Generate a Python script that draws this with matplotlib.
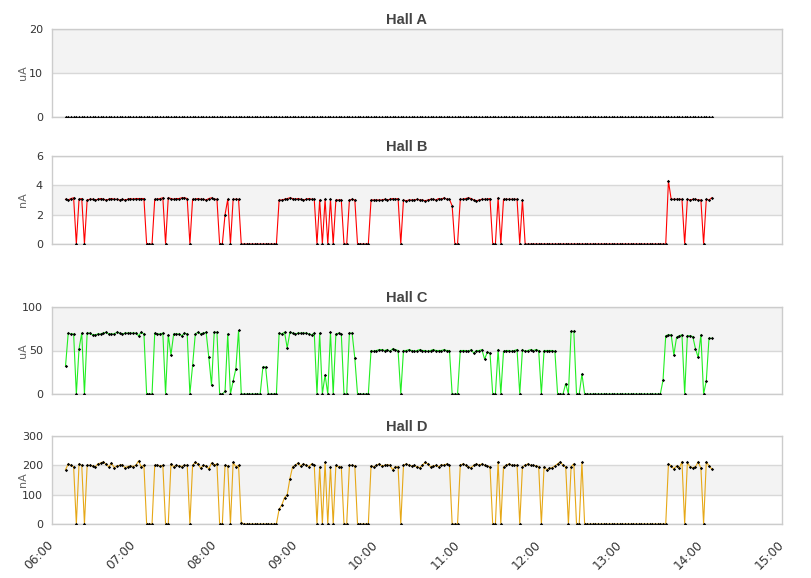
import matplotlib
matplotlib.use("Agg")
import matplotlib.pyplot as plt
import matplotlib.dates as mdates
import pandas as pd

# one reading every 2 minutes, 06:10 .. 14:08
times = pd.date_range("2024-05-14 06:10", periods=240, freq="2min")
day_start = pd.Timestamp("2024-05-14 06:00")
day_end = pd.Timestamp("2024-05-14 15:00")

titles = ["Hall A", "Hall B", "Hall C", "Hall D"]
units = ["uA", "nA", "uA", "nA"]
y_max = [20, 6, 100, 300]
y_step = [10, 2, 50, 100]

hall_a = [0] * 240

hall_b = (
    [3.05, 3.0, 3.1, 3.15, 0, 3.05, 3.1, 0]
    + [3.0, 3.05, 3.05, 3.0, 3.05, 3.1, 3.05, 3.0, 3.05, 3.1, 3.05,
       3.05, 3.0, 3.05, 3.0, 3.05, 3.1, 3.05, 3.1, 3.1, 3.1, 3.1]
    + [0, 0, 0, 3.05, 3.05, 3.1, 3.15, 0]
    + [3.15, 3.1, 3.05, 3.1, 3.1, 3.15, 3.15, 3.1, 0]
    + [3.05, 3.05, 3.1, 3.05, 3.05, 3.0, 3.1, 3.15, 3.05, 3.05]
    + [0, 0, 2.0, 3.05, 0, 3.05, 3.05, 3.05]
    + [0] * 14
    + [3.0, 3.0, 3.05, 3.1, 3.15, 3.1, 3.05, 3.1, 3.05, 3.0, 3.05, 3.1, 3.05, 3.05]
    + [0, 3.0, 0, 3.05, 0, 3.05, 0, 3.0, 3.0, 3.0, 0, 0, 3.0, 3.05, 3.0]
    + [0, 0, 0, 0, 0]
    + [3.0, 3.0, 3.0, 3.0, 3.0, 3.05, 3.0, 3.05, 3.1, 3.05, 3.1, 0]
    + [3.0, 2.95, 3.0, 3.0, 3.0, 3.05, 3.0, 3.0, 2.95, 3.0, 3.05, 3.05,
       3.0, 3.1, 3.05, 3.15, 3.05, 3.05]
    + [2.6, 0, 0]
    + [3.05, 3.05, 3.1, 3.15, 3.1, 3.0, 2.95, 3.0, 3.05, 3.05, 3.05, 3.1]
    + [0, 0, 3.15, 0, 3.05, 3.05, 3.05, 3.05, 3.05, 3.05, 0, 3.0]
    + [0] * 53
    + [4.3, 3.05, 3.05, 3.05, 3.05, 3.05, 0, 3.05, 3.0, 3.05, 3.05, 3.0, 3.0,
       0, 3.05, 3.0, 3.15]
)

hall_c = (
    [32, 70, 69, 69, 0, 52, 70, 0]
    + [70, 70, 68, 68, 69, 69, 70, 71, 69, 69, 69, 71, 70, 69, 70, 70,
       70, 70, 70, 67, 71, 69]
    + [0, 0, 0, 70, 69, 69, 70, 0]
    + [68, 45, 69, 69, 69, 67, 70, 69, 0]
    + [33, 69, 71, 69, 70, 71, 42, 10, 71, 71]
    + [0, 0, 3, 69, 0, 15, 29, 73]
    + [0] * 8
    + [31, 31, 0, 0, 0, 0]
    + [70, 69, 71, 53, 71, 70, 69, 70, 70, 70, 70, 69, 68, 70]
    + [0, 70, 0, 22, 0, 71, 0, 69, 70, 69, 0, 0, 70, 70, 41]
    + [0, 0, 0, 0, 0]
    + [50, 49, 50, 51, 51, 50, 51, 49, 52, 51, 50, 0]
    + [50, 50, 51, 50, 49, 50, 51, 50, 50, 49, 50, 51, 50, 50, 50, 51, 50, 50]
    + [0, 0, 0]
    + [50, 50, 50, 49, 51, 47, 50, 50, 51, 40, 48, 47]
    + [0, 0, 51, 0, 49, 50, 50, 49, 50, 51, 0]
    + [51, 49, 50, 51, 50, 51, 50, 0, 50, 50, 50, 50, 49]
    + [0, 0, 0, 12, 0, 72, 72, 0, 0, 23]
    + [0] * 29
    + [16, 67, 68, 68, 45, 65, 67, 68, 0, 67, 67, 66, 52, 42, 68, 0, 15, 64, 64]
)

hall_d = (
    [185, 205, 200, 195, 0, 205, 200, 0]
    + [200, 200, 198, 195, 205, 208, 212, 203, 195, 208, 192, 198, 200,
       202, 192, 196, 198, 196, 200, 215, 195, 200]
    + [0, 0, 0, 200, 200, 198, 200, 0, 0]
    + [205, 195, 200, 198, 196, 200, 200, 0]
    + [200, 210, 205, 190, 200, 198, 188, 208, 200, 205]
    + [0, 0, 200, 198, 0, 210, 195, 200, 5]
    + [0] * 13
    + [50, 65, 90, 100, 155]
    + [195, 200, 208, 198, 205, 200, 196, 205, 200]
    + [0, 195, 0, 210, 0, 195, 0, 200, 195, 195, 0, 0, 200, 200, 198]
    + [0, 0, 0, 0, 0]
    + [198, 195, 200, 205, 198, 200, 202, 200, 185, 195, 195, 0]
    + [200, 205, 200, 198, 200, 195, 192, 200, 210, 205, 195, 198, 200,
       195, 202, 200, 205, 200]
    + [0, 0, 0]
    + [200, 205, 200, 195, 192, 200, 205, 200, 205, 200, 198, 195]
    + [0, 0, 212, 0, 195, 200, 205, 200, 200, 200, 0]
    + [195, 200, 205, 200, 200, 198, 195, 0]
    + [195, 185, 190, 192, 198, 205, 212, 200, 195, 0]
    + [195, 205, 0, 0, 210]
    + [0] * 31
    + [205, 198, 188, 198, 190, 212, 0, 210, 195, 192, 195, 212, 190, 0,
       212, 198, 188]
)

series = [hall_a, hall_b, hall_c, hall_d]
colors = ["#cccccc", "#ff0000", "#22ee22", "#e6a817"]

# plot area rows in pixels (top, bottom)
W, H = 811, 578
rows = [(29, 117), (156, 244), (307, 394), (436, 524)]
left_px, right_px = 52, 782

fig = plt.figure(figsize=(W / 100, H / 100), dpi=100)

for k in range(4):
    top, bot = rows[k]
    ax = fig.add_axes([left_px / W, 1 - bot / H, (right_px - left_px) / W, (bot - top) / H])
    step = y_step[k]
    ax.axhspan(step, 2 * step, color="#f3f3f3", zorder=0, lw=0)
    ax.plot(times, series[k], color=colors[k], lw=0.8, zorder=2)
    ax.plot(times, series[k], ls="none", marker="D", ms=1.7, mfc="black",
            mec="black", mew=0, zorder=3)
    ax.set_xlim(day_start, day_end)
    ax.set_ylim(0, y_max[k])
    ax.set_yticks(range(0, y_max[k] + 1, step))
    ax.grid(axis="y", color="#d8d8d8", lw=1)
    ax.set_axisbelow(True)
    for sp in ax.spines.values():
        sp.set_color("#cccccc")
        sp.set_linewidth(1)
    ax.xaxis.set_major_locator(mdates.HourLocator())
    ax.xaxis.set_major_formatter(mdates.DateFormatter("%H:%M"))
    ax.tick_params(axis="y", length=0, pad=6.5, labelsize=8, labelcolor="#333333")
    if k < 3:
        ax.tick_params(axis="x", length=0, labelbottom=False)
    else:
        ax.tick_params(axis="x", length=0, pad=13.5, labelsize=8.8, labelcolor="#333333")
        for lbl in ax.get_xticklabels():
            lbl.set_rotation(45)
            lbl.set_ha("right")
            lbl.set_va("center")
            lbl.set_rotation_mode("anchor")

    fig.text(407 / W, 1 - (top - 5) / H, titles[k], ha="center", va="baseline",
             fontsize=10.5, fontweight="bold", color="#444444", family="Liberation Sans")
    fig.text(23 / W, 1 - ((top + bot) / 2) / H, units[k], rotation=90, ha="center",
             va="center", fontsize=8, color="#666666")

fig.savefig("out.png", dpi=100)
